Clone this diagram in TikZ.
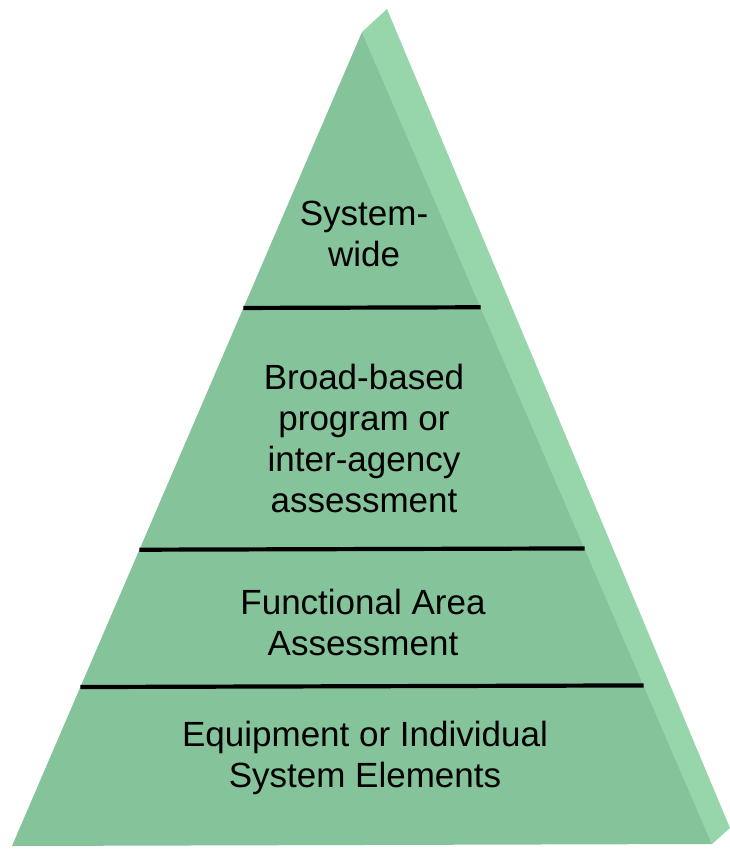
\documentclass[tikz,border=0pt]{standalone}
\usepackage{fontspec}
\setmainfont{Liberation Sans}
\usetikzlibrary{calc}
\definecolor{frontgreen}{RGB}{133,196,154}
\definecolor{sidegreen}{RGB}{150,214,170}
\tikzset{
  levelline/.style={line width=4.2pt},
  leveltext/.style={anchor=north,inner sep=0pt,align=center,
    font=\fontsize{35}{41}\selectfont}
}
\begin{document}
\begin{tikzpicture}[x=1pt,y=-1pt]
  \useasboundingbox (0,0) rectangle (730,849);
  \coordinate (apex) at (362,32);
  \coordinate (backapex) at (387,9);
  \coordinate (bl) at (12,846);
  \coordinate (br) at (712,844);
  \coordinate (backbr) at (730,828);
  % side face and front face
  \fill[sidegreen] (apex) -- (backapex) -- (backbr) -- (br) -- cycle;
  \fill[frontgreen] (apex) -- (br) -- (bl) -- cycle;
  % level separators
  \draw[levelline] ($(apex)!0.339!(bl)$) -- ($(apex)!0.339!(br)$);
  \draw[levelline] ($(apex)!0.636!(bl)$) -- ($(apex)!0.636!(br)$);
  \draw[levelline] ($(apex)!0.8047!(bl)$) -- ($(apex)!0.8047!(br)$);
  % labels
  \node[leveltext] (system) at (364,201) {System-\\wide};
  \node[leveltext] (broad) at (364,364) {Broad-based\\program or\\inter-agency\\assessment};
  \node[leveltext] (functional) at (363,589) {Functional Area\\Assessment};
  \node[leveltext] (equipment) at (365,721) {Equipment or Individual\\System Elements};
\end{tikzpicture}
\end{document}
